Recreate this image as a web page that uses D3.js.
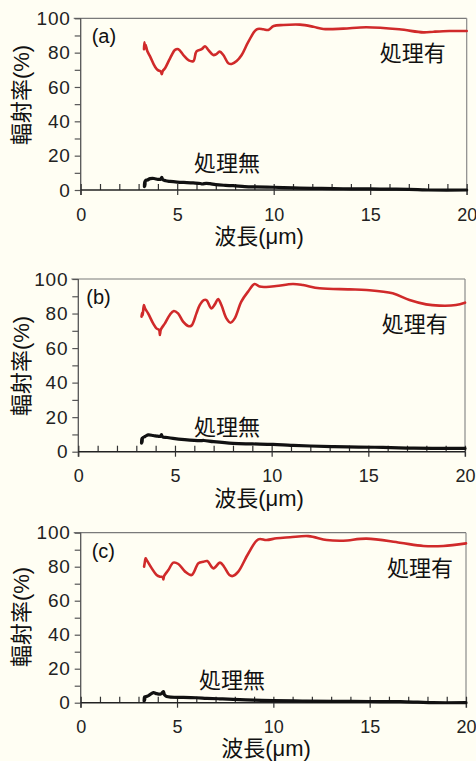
<!DOCTYPE html>
<html>
<head>
<meta charset="utf-8">
<script src="https://cdn.jsdelivr.net/npm/d3@7"></script>
<style>
  html, body { margin: 0; padding: 0; background: #fffef3; }
  svg { display: block; }
</style>
</head>
<body>
<svg id="chart" width="476" height="761"></svg>
<script>
// ---- axis definitions -------------------------------------------------
const xDomain = [0, 20];          // wavelength, µm
const yDomain = [0, 100];         // emissivity, %
const xTicksMajor = [0, 5, 10, 15, 20];
const xTicksMinor = d3.range(0, 21, 1);
const yTicksMajor = [0, 20, 40, 60, 80, 100];
const yTicksMinor = d3.range(0, 101, 10);

const panelTags = ["(a)", "(b)", "(c)"];
const treatedLabel = "処理有";
const untreatedLabel = "処理無";
const xTitle = "波長(μm)";
const yTitle = "輻射率(%)";

// ---- spectra: [wavelength µm, emissivity %] ----------------------------
// sample (a)
const treatedA = [[3.28,82],[3.30,86],[3.33,82.5],[3.36,84.5],[3.45,81],[3.6,77.7],[3.85,71.8],[4.0,69.8],[4.15,69],[4.2,67.4],[4.25,69.3],[4.37,70.9],[4.63,76.7],[4.89,81.6],[5.06,82],[5.32,78.6],[5.6,75.5],[5.84,75.1],[6.0,80.8],[6.27,82],[6.44,83.7],[6.61,81.6],[6.87,78.6],[7.01,79],[7.2,80.6],[7.39,78.6],[7.65,73.8],[7.82,73.4],[8.08,75.1],[8.34,78.6],[8.69,86.4],[9.12,93.6],[9.46,93.6],[9.72,93.2],[10.0,95.5],[10.5,96.1],[11.36,96.3],[12.05,95.1],[12.57,93.8],[13.6,94],[14.8,94.8],[16.5,93.6],[17.75,91.8],[18.3,92.2],[19.1,92.6],[20,92.6]];
const untreatedA = [[3.3,2],[3.31,5],[3.33,2.5],[3.36,5.5],[3.45,5.8],[3.6,6.6],[3.8,6.7],[4.0,6.2],[4.15,6.3],[4.2,7.4],[4.25,6.1],[4.4,5.4],[4.63,5.0],[5.0,4.6],[5.5,4.3],[5.83,4.1],[6.2,3.8],[6.3,3.5],[6.5,3.9],[6.7,3.7],[7.0,3.1],[7.5,2.7],[7.9,2.5],[8.5,2.0],[9.0,1.8],[10,1.6],[11,1.2],[12,1.0],[13.1,0.8],[14,0.7],[15,0.6],[16,0.5],[17,0.4],[17.7,0.1],[18,0],[20,0]];

// sample (b)
const treatedB = [[3.27,78.2],[3.3,80.5],[3.33,79],[3.39,84.9],[3.45,83],[3.61,80.1],[3.87,74.3],[4.04,71.4],[4.18,70.5],[4.22,67.6],[4.27,70.8],[4.48,74.3],[4.73,79.2],[4.94,81.5],[5.16,80.1],[5.42,75.3],[5.68,72.8],[5.85,73],[6.11,80.1],[6.28,84.9],[6.49,87.8],[6.63,87.8],[6.88,83],[7.06,85.3],[7.23,88.4],[7.4,84.9],[7.66,77.2],[7.87,74.7],[8.09,77.2],[8.43,86.9],[8.78,92.7],[9.12,97.1],[9.38,95.6],[9.72,95.4],[10.24,95.9],[11.1,97.1],[11.62,96.5],[12.48,94.6],[14.03,94],[14.9,93.6],[16.26,91.7],[17.13,87.8],[17.99,85.3],[18.67,84.6],[19.53,84.9],[20,86.3]];
const untreatedB = [[3.27,5],[3.28,7.7],[3.3,5.5],[3.33,8],[3.45,8.8],[3.61,9.7],[3.87,9.4],[4.1,9.0],[4.25,8.9],[4.3,9.9],[4.35,8.7],[4.6,8.2],[4.9,7.7],[5.5,7.0],[6.28,6.4],[6.5,6.5],[7,5.8],[8,4.8],[9,4.5],[10.07,4.2],[11,3.7],[12,3.3],[13.2,2.9],[14.5,2.7],[15.75,2.5],[17,2.1],[18.3,1.9],[20,1.9]];

// sample (c)
const treatedC = [[3.29,80],[3.32,82],[3.37,84.9],[3.42,84],[3.69,79],[3.94,75.1],[4.12,74.1],[4.25,74],[4.29,72.5],[4.33,74.5],[4.55,78],[4.81,82.4],[5.07,81.6],[5.42,77.1],[5.76,75.1],[6.11,82],[6.37,82.9],[6.57,83.3],[6.89,79],[7.23,82.4],[7.44,80],[7.72,75.1],[7.89,74.5],[8.18,77.1],[8.7,87.8],[9.22,96.1],[9.65,95.7],[10.17,96.7],[10.87,97.3],[11.82,98],[12.77,95.7],[13.63,95.3],[14.84,96.5],[16.57,94.1],[17.79,92.2],[18.82,92.2],[20,93.7]];
const untreatedC = [[3.29,1],[3.3,3.5],[3.32,1.5],[3.35,3.3],[3.5,4],[3.77,5.9],[3.95,5.3],[4.15,5.1],[4.29,6.5],[4.35,4.6],[4.46,3.7],[5.33,3.1],[6.0,2.9],[6.54,2.6],[7.2,2.3],[7.92,1.9],[9,1.5],[10,1.2],[11.5,1.0],[13.1,0.8],[15,0.7],[16.6,0.6],[17.5,0.3],[18.3,0],[20,0]];

const treatedSeries = [treatedA, treatedB, treatedC];
const untreatedSeries = [untreatedA, untreatedB, untreatedC];

// ---- layout of the three stacked panels --------------------------------
const layout = [
  { left: 80.7, right: 466.7, top: 18.3, bottom: 190,   yTitleY: 95,  xTitleX: 259, xTitleBase: 244,
    tag: [11, 24.5], treatedAt: [15.5, 75.4], untreatedAt: [5.87, 10.8] },
  { left: 78.3, right: 465,   top: 279,  bottom: 451.7, yTitleY: 366, xTitleX: 259, xTitleBase: 506,
    tag: [8, 25],    treatedAt: [15.7, 69.6], untreatedAt: [5.98, 9.4] },
  { left: 80.7, right: 466,   top: 532.7, bottom: 702.7, yTitleY: 617, xTitleX: 266, xTitleBase: 756,
    tag: [11, 25],   treatedAt: [15.9, 74.8], untreatedAt: [6.14, 8.4] }
];

const svg = d3.select("#chart");
const latin = "'Liberation Sans', Arial, sans-serif";
const cjk = "'Liberation Sans', 'Noto Sans CJK JP', sans-serif";

layout.forEach((L, i) => {
  const x = d3.scaleLinear().domain(xDomain).range([L.left, L.right]);
  const y = d3.scaleLinear().domain(yDomain).range([L.bottom, L.top]);
  const g = svg.append("g");

  // frame: top and right edges
  g.append("line").attr("x1", L.left - 7).attr("x2", L.right).attr("y1", L.top).attr("y2", L.top)
    .attr("stroke", "#7a7a7a").attr("stroke-width", 1.2);
  g.append("line").attr("x1", L.right).attr("x2", L.right).attr("y1", L.top).attr("y2", L.bottom + 5)
    .attr("stroke", "#8a8a8a").attr("stroke-width", 1.2);

  // y axis: outward ticks, labels every 20
  const yAxis = d3.axisLeft(y).tickValues(yTicksMinor).tickSize(6).tickPadding(4)
    .tickFormat(d => yTicksMajor.includes(d) ? d : "");
  const ya = g.append("g").attr("transform", `translate(${L.left},0)`).call(yAxis);
  ya.select(".domain").attr("stroke", "#555").attr("stroke-width", 1.3)
    .attr("d", `M0,${L.bottom + 5}V${L.top}`);
  ya.selectAll(".tick line").attr("stroke", "#555").attr("stroke-width", 1.2);
  ya.selectAll(".tick text").attr("font-family", latin).attr("font-size", 19)
    .attr("letter-spacing", 0.8).attr("fill", "#222");

  // x axis: minor ticks inward, major ticks crossing the axis line
  const xMinor = d3.axisTop(x).tickValues(xTicksMinor).tickSize(6).tickFormat("");
  const xm = g.append("g").attr("transform", `translate(0,${L.bottom})`).call(xMinor);
  xm.select(".domain").remove();
  xm.selectAll(".tick line").attr("stroke", "#333").attr("stroke-width", 1.2);

  const xAxis = d3.axisBottom(x).tickValues(xTicksMajor).tickSize(5).tickPadding(13);
  const xa = g.append("g").attr("transform", `translate(0,${L.bottom})`).call(xAxis);
  xa.select(".domain").attr("stroke", "#222").attr("stroke-width", 1.6)
    .attr("d", `M${L.left},0H${L.right}`);
  xa.selectAll(".tick line").attr("stroke", "#333").attr("stroke-width", 1.2);
  xa.selectAll(".tick text").attr("font-family", latin).attr("font-size", 18).attr("fill", "#222");

  // curves
  const line = d3.line().x(d => x(d[0])).y(d => y(d[1])).curve(d3.curveCatmullRom.alpha(0.5));
  g.append("path").datum(treatedSeries[i]).attr("d", line)
    .attr("fill", "none").attr("stroke", "#d02a2a").attr("stroke-width", 2.6)
    .attr("stroke-linejoin", "round").attr("stroke-linecap", "round");
  g.append("path").datum(untreatedSeries[i]).attr("d", line)
    .attr("fill", "none").attr("stroke", "#111").attr("stroke-width", 3.2)
    .attr("stroke-linejoin", "round").attr("stroke-linecap", "round");

  // panel tag
  g.append("text").attr("x", L.left + L.tag[0]).attr("y", L.top + L.tag[1])
    .attr("font-family", latin).attr("font-size", 20).attr("fill", "#111").text(panelTags[i]);

  // series labels
  g.append("text").attr("x", x(L.treatedAt[0])).attr("y", y(L.treatedAt[1]))
    .attr("font-family", cjk).attr("font-size", 22).attr("fill", "#111").text(treatedLabel);
  g.append("text").attr("x", x(L.untreatedAt[0])).attr("y", y(L.untreatedAt[1]))
    .attr("font-family", cjk).attr("font-size", 22).attr("fill", "#111").text(untreatedLabel);

  // axis titles
  g.append("text").attr("x", L.xTitleX).attr("y", L.xTitleBase).attr("text-anchor", "middle")
    .attr("font-family", cjk).attr("font-size", 22).attr("fill", "#111").text(xTitle);
  g.append("text").attr("transform", `translate(21,${L.yTitleY}) rotate(-90)`)
    .attr("text-anchor", "middle").attr("dominant-baseline", "central")
    .attr("font-family", cjk).attr("font-size", 22).attr("fill", "#111").text(yTitle);
});
</script>
</body>
</html>
